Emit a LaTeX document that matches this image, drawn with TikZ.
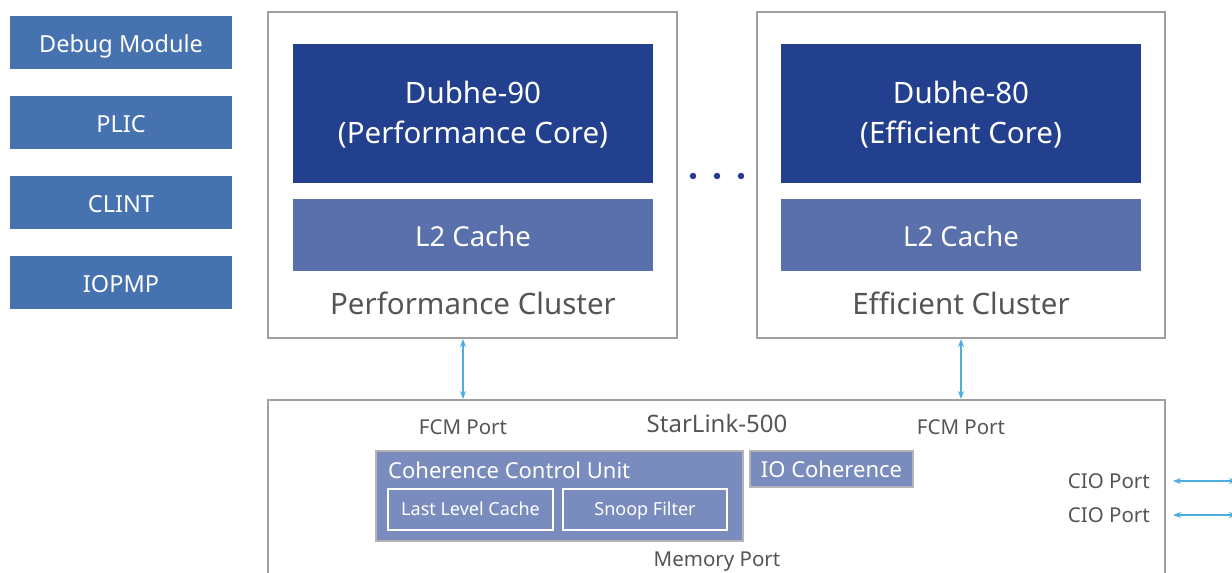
\documentclass[tikz,border=0pt]{standalone}
\usepackage{fontspec}
\setmainfont{Noto Sans}
\usetikzlibrary{arrows.meta}
\definecolor{sideblue}{HTML}{4672B0}
\definecolor{coreblue}{HTML}{22408E}
\definecolor{cacheblue}{HTML}{5A70AC}
\definecolor{ccublue}{HTML}{7A8CBD}
\definecolor{framegray}{HTML}{A0A0A0}
\definecolor{ccuframe}{HTML}{B4B4B4}
\definecolor{textgray}{HTML}{555555}
\definecolor{arrowblue}{HTML}{4BAEDF}
\newcommand{\fs}[1]{\fontsize{#1}{#1}\selectfont}
\begin{document}
\begin{tikzpicture}[x=1pt,y=-1pt,
  blk/.style={rectangle,inner sep=0pt,outer sep=0pt,text=white,align=center,text depth=0pt},
  sidebox/.style={blk,fill=sideblue,minimum width=222pt,minimum height=53pt,font=\fs{23.5},text height=20.8pt},
  corebox/.style={blk,fill=coreblue,minimum width=360pt,minimum height=139pt,font=\fs{29.5},text height=60pt},
  cachebox/.style={blk,fill=cacheblue,minimum width=360pt,minimum height=72pt,font=\fs{27.5},text height=23.6pt},
  clusterframe/.style={rectangle,draw=framegray,line width=1.3pt,inner sep=0pt,outer sep=0pt},
  clusterlabel/.style={inner sep=0pt,text=textgray,font=\fs{29.5},text height=21.06pt,text depth=0pt},
  portlabel/.style={inner sep=0pt,text=textgray,font=\fs{20.5},text height=14.6pt,text depth=0pt},
  ccubox/.style={blk,fill=ccublue,draw=ccuframe,line width=1.6pt},
  subbox/.style={blk,draw=white,line width=1.3pt,minimum width=165pt,minimum height=41pt,font=\fs{18},text height=11.9pt},
  biarrow/.style={draw=arrowblue,line width=1.2pt,{Stealth[length=8pt,width=6pt]}-{Stealth[length=8pt,width=6pt]}},
  dot/.style={circle,fill=coreblue,inner sep=0pt,minimum size=6.5pt}
]
\useasboundingbox (0,0) rectangle (1232,573);
\fill[white] (0,0) rectangle (1232,573);

% side blocks
\node[sidebox] (dbg) at (121,42.5) {Debug Module};
\node[sidebox] (plic) at (121,122.5) {PLIC};
\node[sidebox] (clint) at (121,202.5) {CLINT};
\node[sidebox] (iopmp) at (121,282.5) {IOPMP};

% performance cluster
\node[clusterframe,minimum width=409pt,minimum height=326pt] (perf) at (472.5,175) {};
\node[corebox] (core90) at (473,113.5) {Dubhe-90\\[11pt](Performance Core)};
\node[cachebox] (l2a) at (473,235) {L2 Cache};
\node[clusterlabel] (perflbl) at (473,304) {Performance Cluster};

% efficient cluster
\node[clusterframe,minimum width=408pt,minimum height=326pt] (eff) at (961,175) {};
\node[corebox] (core80) at (961,113.5) {Dubhe-80\\[11pt](Efficient Core)};
\node[cachebox] (l2b) at (961,235) {L2 Cache};
\node[clusterlabel] (efflbl) at (961,304) {Efficient Cluster};

% dots
\node[dot] (d1) at (693,176) {};
\node[dot] (d2) at (717,176) {};
\node[dot] (d3) at (741,176) {};

% StarLink
\node[clusterframe,minimum width=897pt,minimum height=200pt] (star) at (716.5,500) {};
\node[portlabel] (fcm1) at (463,427) {FCM Port};
\node[portlabel] (fcm2) at (961,427) {FCM Port};
\node[inner sep=0pt,text=textgray,font=\fs{24},text height=17.1pt,text depth=0pt] (starlbl) at (717,423.5) {StarLink-500};

\node[ccubox,minimum width=367pt,minimum height=90pt] (ccu) at (559.5,496) {};
\node[inner sep=0pt,anchor=west,text=white,font=\fs{22},text height=15.7pt,text depth=0pt] (ccului) at (388,470.5) {Coherence Control Unit};
\node[subbox] (llc) at (470.5,509.5) {Last Level Cache};
\node[subbox,minimum width=164pt] (snoop) at (645,509.5) {Snoop Filter};
\node[ccubox,minimum width=163pt,minimum height=36pt,font=\fs{22},text height=16.7pt] (ioc) at (831.5,469) {IO Coherence};

\node[portlabel] (mem) at (717,559) {Memory Port};
\node[portlabel,anchor=east] (cio1) at (1150,481) {CIO Port};
\node[portlabel,anchor=east] (cio2) at (1150,515) {CIO Port};
\coordinate (cioR1) at (1237,481);
\coordinate (cioR2) at (1237,515);

% connectors
\draw[biarrow,shorten <=1pt,shorten >=1pt] (perf.south -| fcm1) -- (star.north -| fcm1);
\draw[biarrow,shorten <=1pt,shorten >=1pt] (eff.south -| fcm2) -- (star.north -| fcm2);
\draw[biarrow,shorten <=8pt] (star.east |- cioR1) -- (cioR1);
\draw[biarrow,shorten <=8pt] (star.east |- cioR2) -- (cioR2);
\end{tikzpicture}
\end{document}
